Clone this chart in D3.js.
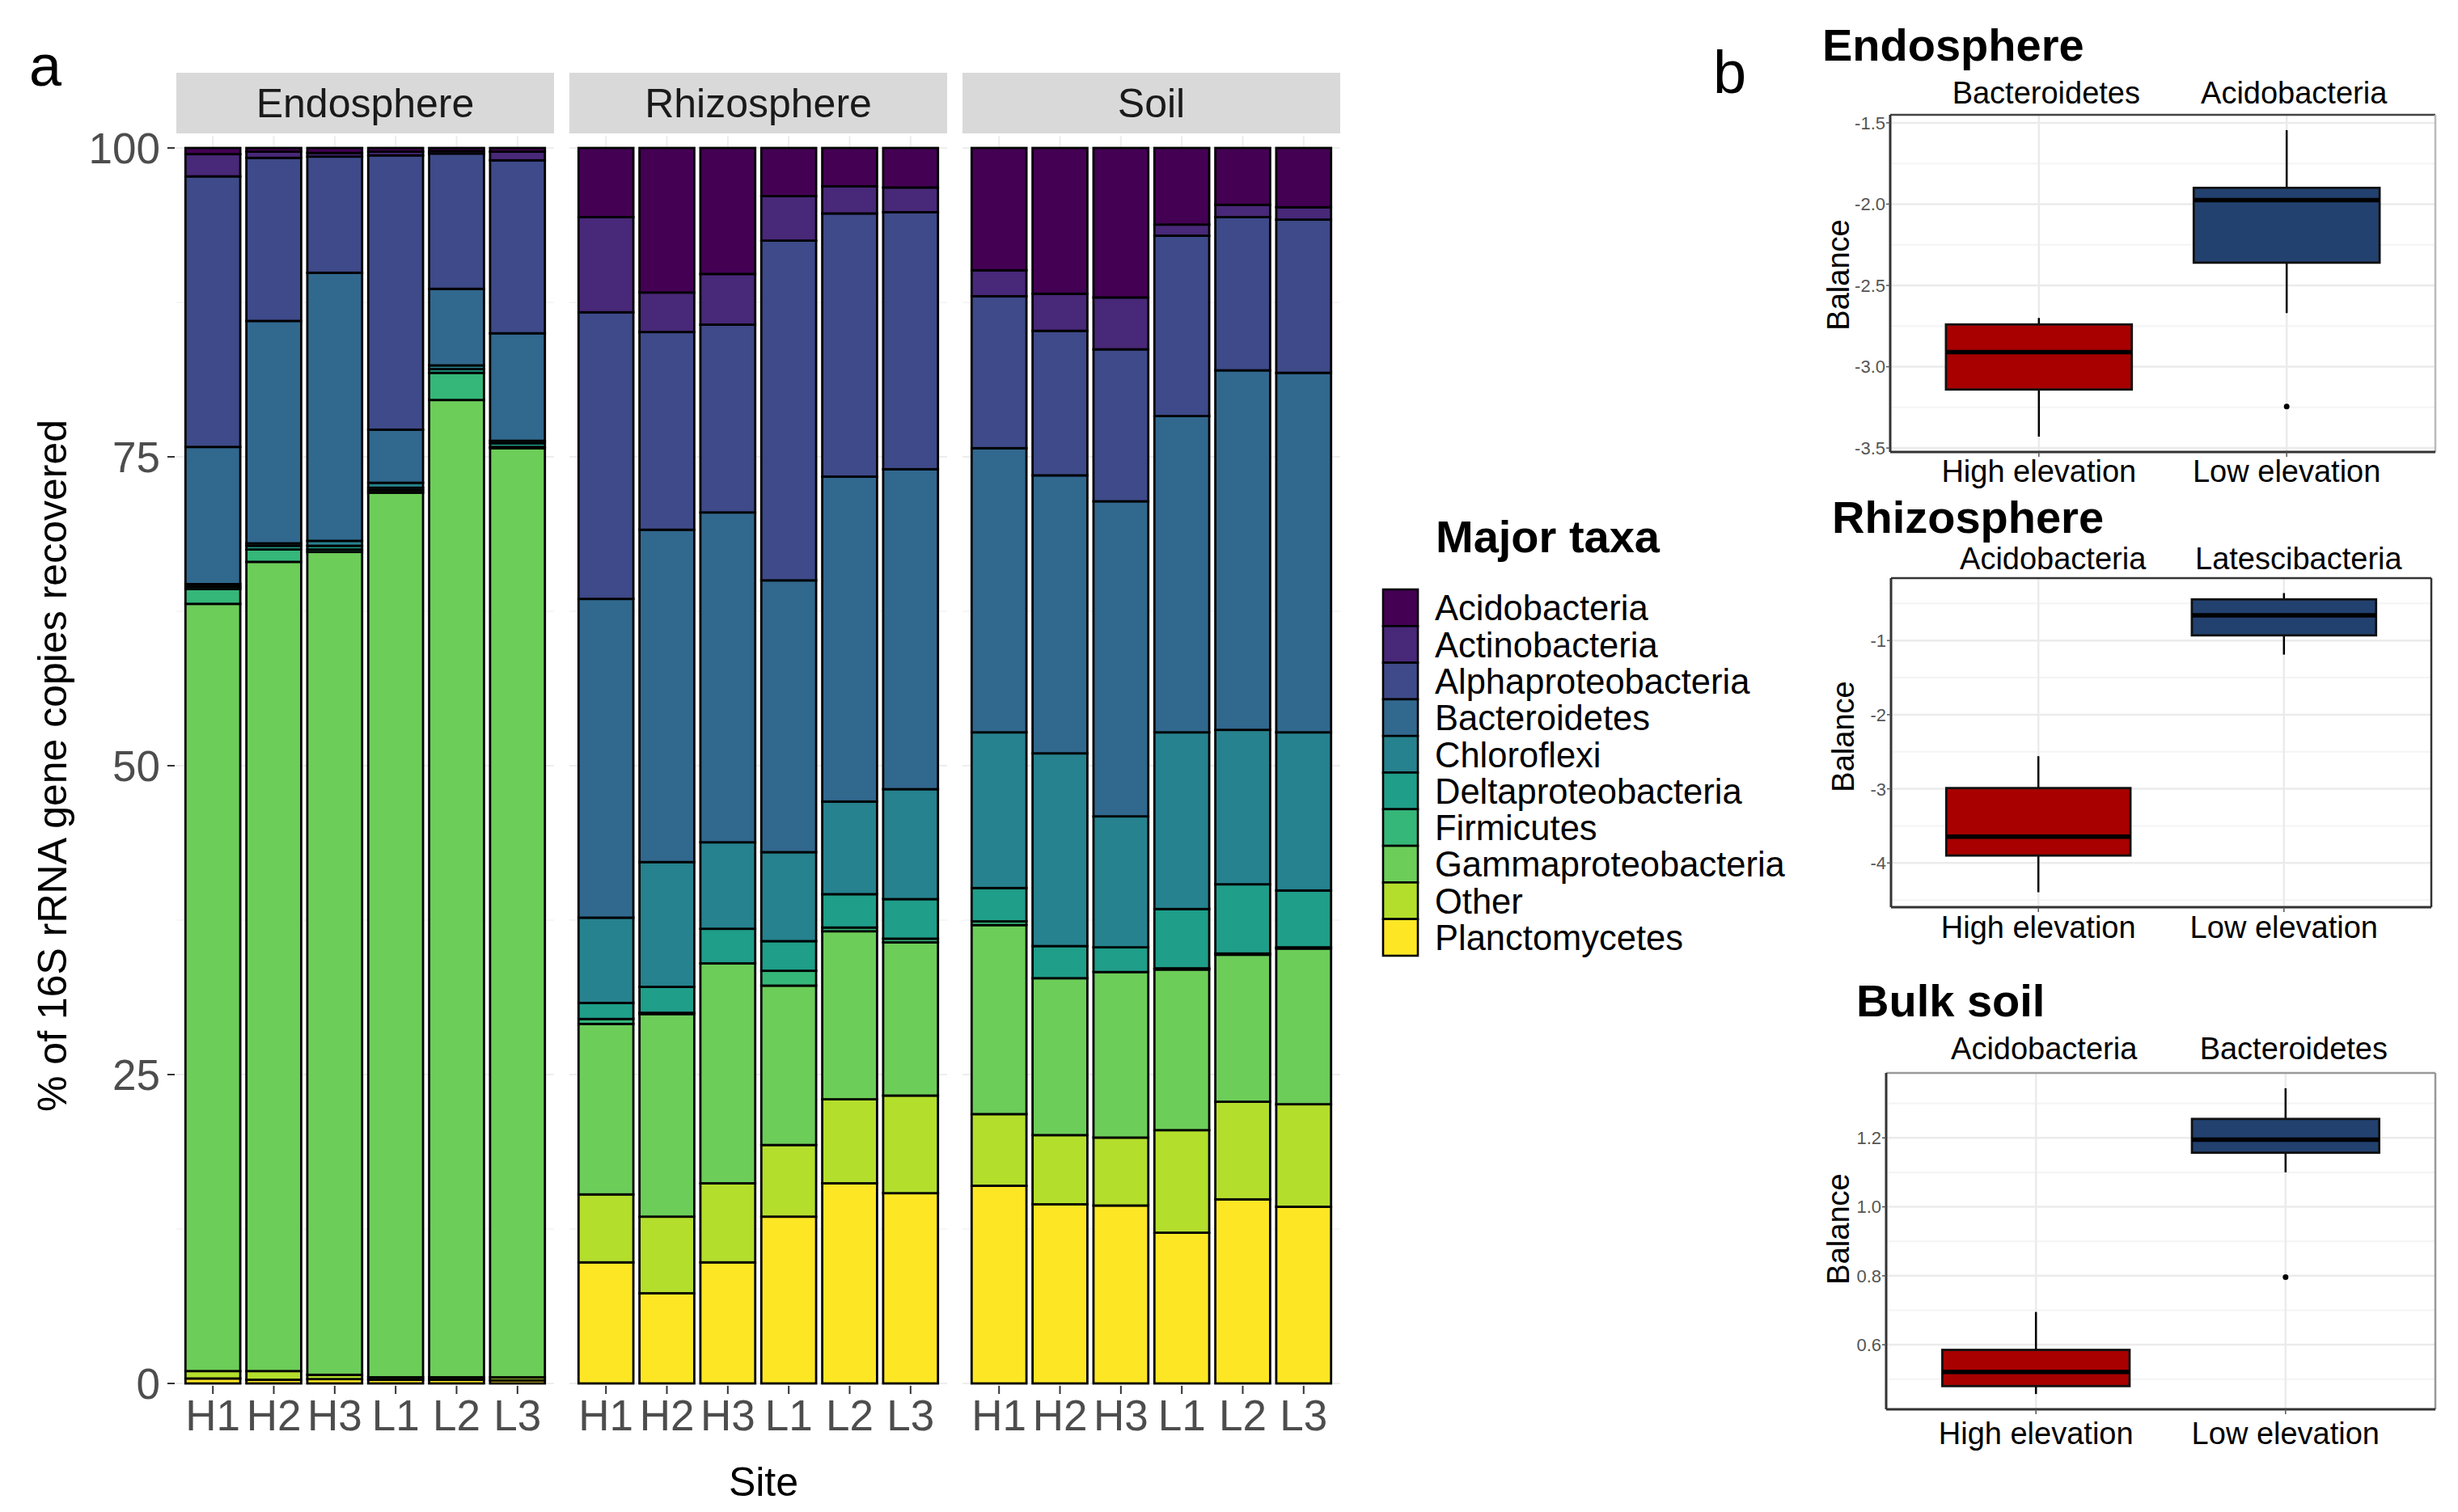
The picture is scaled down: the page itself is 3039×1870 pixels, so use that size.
<!DOCTYPE html>
<html><head><meta charset="utf-8">
<script src="https://cdn.jsdelivr.net/npm/d3@7/dist/d3.min.js"></script>
<style>body{margin:0;background:#fff} svg{display:block} text{font-family:"Liberation Sans",Arial,Helvetica,sans-serif}</style>
</head><body><svg id="c" width="3039" height="1870"></svg>
<script>
// ---------- DATA ----------
const taxa = ["Acidobacteria","Actinobacteria","Alphaproteobacteria","Bacteroidetes","Chloroflexi","Deltaproteobacteria","Firmicutes","Gammaproteobacteria","Other","Planctomycetes"];
const taxaColors = ["#440154","#482878","#3E4A89","#31688E","#26828E","#1F9E89","#35B779","#6DCD59","#B4DE2C","#FDE725"];
const sites = ["H1","H2","H3","L1","L2","L3"];
const compartments = ["Endosphere","Rhizosphere","Soil"];
// rows = sites (H1..L3), columns = taxa order above (% of 16S rRNA gene copies)
const endosphereValues = [
  [0.5,1.8,21.9,11.1,0.2,0.2,1.2,62.1,0.6,0.4],
  [0.3,0.5,13.2,18.0,0.2,0.3,1.0,65.5,0.7,0.3],
  [0.4,0.3,9.4,21.7,0.4,0.3,0.2,66.6,0.35,0.35],
  [0.3,0.3,22.2,4.3,0.4,0.2,0.2,71.6,0.2,0.3],
  [0.25,0.2,10.95,6.2,0.3,0.3,2.2,79.1,0.2,0.3],
  [0.3,0.7,14.0,8.7,0.2,0.3,0.1,75.2,0.25,0.25]
];
const rhizosphereValues = [
  [5.6,7.7,23.2,25.8,6.9,1.3,0.4,13.8,5.5,9.8],
  [11.7,3.2,16.0,26.9,10.1,2.1,0.1,16.4,6.2,7.3],
  [10.2,4.1,15.2,26.7,7.0,2.8,0.0,17.8,6.4,9.8],
  [3.9,3.6,27.5,22.0,7.2,2.4,1.2,12.9,5.8,13.5],
  [3.1,2.2,21.3,26.3,7.5,2.7,0.3,13.6,6.8,16.2],
  [3.2,2.0,20.8,25.9,8.9,3.2,0.3,12.4,7.9,15.4]
];
const soilValues = [
  [9.9,2.1,12.3,23.0,12.6,2.7,0.3,15.3,5.8,16.0],
  [11.8,3.0,11.7,22.5,15.6,2.6,0.0,12.7,5.6,14.5],
  [12.1,4.2,12.3,25.5,10.6,2.0,0.0,13.4,5.5,14.4],
  [6.2,0.9,14.6,25.6,14.3,4.8,0.1,13.0,8.3,12.2],
  [4.6,1.0,12.4,29.1,12.5,5.6,0.1,11.9,7.9,14.9],
  [4.8,1.0,12.4,29.1,12.8,4.6,0.1,12.6,8.3,14.3]
];
const yTicksA = [0,25,50,75,100];

// Panel b: balances (five-number summaries + outliers)
const elevationGroups = ["High elevation","Low elevation"];
const boxColors = ["#A80000","#22416F"];
const endoBalanceTaxa = ["Bacteroidetes","Acidobacteria"];
const endoBoxes = [
  {lo:-3.43, q1:-3.14, med:-2.91, q3:-2.74, hi:-2.70, out:[]},
  {lo:-2.67, q1:-2.36, med:-1.975, q3:-1.90, hi:-1.545, out:[-3.245]}
];
const endoTicks = [-3.5,-3.0,-2.5,-2.0,-1.5];
const rhizoBalanceTaxa = ["Acidobacteria","Latescibacteria"];
const rhizoBoxes = [
  {lo:-4.395, q1:-3.90, med:-3.645, q3:-2.99, hi:-2.56, out:[]},
  {lo:-1.19, q1:-0.93, med:-0.66, q3:-0.445, hi:-0.36, out:[]}
];
const rhizoTicks = [-4,-3,-2,-1];
const soilBalanceTaxa = ["Acidobacteria","Bacteroidetes"];
const soilBoxes = [
  {lo:0.457, q1:0.48, med:0.521, q3:0.585, hi:0.695, out:[]},
  {lo:1.10, q1:1.157, med:1.195, q3:1.255, hi:1.344, out:[0.796]}
];
const soilTicks = [0.6,0.8,1.0,1.2];

// ---------- DRAW ----------
const svg = d3.select("#c");
const allValues = [endosphereValues, rhizosphereValues, soilValues];

// panel a
const panelTop = 168, panelBottom = 1714;
const yA = d3.scaleLinear().domain([0,100]).range([1711,183]);
const panelX0 = [218,704,1190], panelW = 467;

svg.append("text").attr("x",36).attr("y",106).attr("font-size",72).attr("fill","#000").text("a");

const stackKeys = taxa.slice().reverse(); // Planctomycetes at bottom
compartments.forEach((comp, ci) => {
  const x0 = panelX0[ci];
  const g = svg.append("g");
  const x = d3.scaleBand().domain(sites).range([x0, x0+panelW]).paddingInner(0.1).paddingOuter(0.15);
  const minor = d3.range(12.5,100,25);
  g.selectAll(".gm").data(minor).join("line").attr("x1",x0).attr("x2",x0+panelW)
    .attr("y1",d=>yA(d)).attr("y2",d=>yA(d)).attr("stroke","#F3F3F3").attr("stroke-width",1.5);
  g.selectAll(".gM").data(yTicksA).join("line").attr("x1",x0).attr("x2",x0+panelW)
    .attr("y1",d=>yA(d)).attr("y2",d=>yA(d)).attr("stroke","#EDEDED").attr("stroke-width",2);
  g.selectAll(".gv").data(sites).join("line").attr("x1",d=>x(d)+x.bandwidth()/2).attr("x2",d=>x(d)+x.bandwidth()/2)
    .attr("y1",panelTop).attr("y2",panelBottom).attr("stroke","#EDEDED").attr("stroke-width",2);
  g.append("rect").attr("x",x0).attr("y",90).attr("width",panelW).attr("height",75).attr("fill","#D9D9D9");
  g.append("text").attr("x",x0+panelW/2).attr("y",145).attr("text-anchor","middle").attr("font-size",50).attr("fill","#1A1A1A").text(comp);
  const rows = allValues[ci].map((r,i)=>{ const o={site:sites[i]}; taxa.forEach((t,j)=>o[t]=r[j]); return o; });
  const series = d3.stack().keys(stackKeys)(rows);
  series.forEach(s => {
    const col = taxaColors[taxa.indexOf(s.key)];
    g.selectAll(null).data(s.filter(d=>d[1]-d[0]>0)).join("rect")
      .attr("x",d=>x(d.data.site)).attr("width",x.bandwidth())
      .attr("y",d=>yA(d[1])).attr("height",d=>yA(d[0])-yA(d[1]))
      .attr("fill",col).attr("stroke","#000").attr("stroke-width",2.8);
  });
  g.selectAll(".xt").data(sites).join("line").attr("x1",d=>x(d)+x.bandwidth()/2).attr("x2",d=>x(d)+x.bandwidth()/2)
    .attr("y1",panelBottom).attr("y2",panelBottom+10).attr("stroke","#333").attr("stroke-width",2);
  g.selectAll(".xl").data(sites).join("text").attr("x",d=>x(d)+x.bandwidth()/2).attr("y",1769)
    .attr("text-anchor","middle").attr("font-size",53).attr("fill","#4D4D4D").text(d=>d);
});
svg.selectAll(".yt").data(yTicksA).join("line").attr("x1",207).attr("x2",216).attr("y1",d=>yA(d)).attr("y2",d=>yA(d))
  .attr("stroke","#333").attr("stroke-width",2);
svg.selectAll(".yl").data(yTicksA).join("text").attr("x",198).attr("y",d=>yA(d)).attr("dy","0.36em")
  .attr("text-anchor","end").attr("font-size",53).attr("fill","#4D4D4D").text(d=>d);
svg.append("text").attr("transform","translate(82,947) rotate(-90)").attr("text-anchor","middle")
  .attr("font-size",50).attr("fill","#000").text("% of 16S rRNA gene copies recovered");
svg.append("text").attr("x",944).attr("y",1850).attr("text-anchor","middle").attr("font-size",50).attr("fill","#000").text("Site");

// legend
svg.append("text").attr("x",1775).attr("y",683).attr("font-size",56).attr("font-weight","bold").attr("fill","#000").text("Major taxa");
const keyH = 45.3, keyY0 = 729;
const lg = svg.append("g");
lg.selectAll("rect").data(taxa).join("rect").attr("x",1710).attr("y",(d,i)=>keyY0+i*keyH).attr("width",43).attr("height",keyH)
  .attr("fill",(d,i)=>taxaColors[i]).attr("stroke","#000").attr("stroke-width",2.6);
lg.selectAll("text").data(taxa).join("text").attr("x",1774).attr("y",(d,i)=>keyY0+(i+0.5)*keyH).attr("dy","0.36em")
  .attr("font-size",43.5).attr("fill","#000").text(d=>d);

// panel b
svg.append("text").attr("x",2118).attr("y",115).attr("font-size",74).attr("fill","#000").text("b");

function boxPanel(cfg){
  const g = svg.append("g");
  const {x0,x1,y0,y1} = cfg;
  const vals = cfg.boxes.flatMap(b=>[b.lo,b.hi,...b.out]);
  const ext = d3.extent(vals), pad = (ext[1]-ext[0])*0.05;
  const y = d3.scaleLinear().domain([ext[0]-pad, ext[1]+pad]).range([y1,y0]);
  const xc = d3.scalePoint().domain(elevationGroups).range([x0 + (x1-x0)*0.6/2.2, x0 + (x1-x0)*1.6/2.2]);
  const cx = d => xc(d);
  const bw = (x1-x0)*0.75/2.2;
  const tstep = cfg.ticks[1]-cfg.ticks[0];
  const minor = cfg.ticks.map(t=>t-tstep/2).concat([cfg.ticks[cfg.ticks.length-1]+tstep/2]).filter(v=>y(v)>=y0&&y(v)<=y1);
  g.selectAll(".gm").data(minor).join("line").attr("x1",x0).attr("x2",x1).attr("y1",d=>y(d)).attr("y2",d=>y(d))
    .attr("stroke","#F4F4F4").attr("stroke-width",2);
  g.selectAll(".gM").data(cfg.ticks).join("line").attr("x1",x0).attr("x2",x1).attr("y1",d=>y(d)).attr("y2",d=>y(d))
    .attr("stroke","#EBEBEB").attr("stroke-width",2.5);
  g.selectAll(".gv").data(elevationGroups).join("line").attr("x1",d=>cx(d)).attr("x2",d=>cx(d)).attr("y1",y0).attr("y2",y1)
    .attr("stroke","#EBEBEB").attr("stroke-width",2.5);
  cfg.boxes.forEach((b,i)=>{
    const c = cx(elevationGroups[i]);
    g.append("line").attr("x1",c).attr("x2",c).attr("y1",y(b.hi)).attr("y2",y(b.q3)).attr("stroke","#000").attr("stroke-width",2.5);
    g.append("line").attr("x1",c).attr("x2",c).attr("y1",y(b.q1)).attr("y2",y(b.lo)).attr("stroke","#000").attr("stroke-width",2.5);
    g.append("rect").attr("x",c-bw/2).attr("width",bw).attr("y",y(b.q3)).attr("height",y(b.q1)-y(b.q3))
      .attr("fill",boxColors[i]).attr("stroke","#111").attr("stroke-width",2.8);
    g.append("line").attr("x1",c-bw/2).attr("x2",c+bw/2).attr("y1",y(b.med)).attr("y2",y(b.med)).attr("stroke","#000").attr("stroke-width",5.5);
    b.out.forEach(o=>g.append("circle").attr("cx",c).attr("cy",y(o)).attr("r",3.5).attr("fill","#000"));
  });
  g.append("line").attr("x1",x0).attr("x2",x1).attr("y1",y0).attr("y2",y0).attr("stroke",cfg.topCol).attr("stroke-width",2.5);
  g.append("line").attr("x1",x1).attr("x2",x1).attr("y1",y0).attr("y2",y1).attr("stroke",cfg.rightCol).attr("stroke-width",2.5);
  g.append("line").attr("x1",x0).attr("x2",x0).attr("y1",y0).attr("y2",y1).attr("stroke","#333").attr("stroke-width",3);
  g.append("line").attr("x1",x0).attr("x2",x1).attr("y1",y1).attr("y2",y1).attr("stroke","#333").attr("stroke-width",3);
  g.selectAll(".yt").data(cfg.ticks).join("line").attr("x1",x0-5).attr("x2",x0).attr("y1",d=>y(d)).attr("y2",d=>y(d)).attr("stroke","#555").attr("stroke-width",1.5);
  g.selectAll(".yl").data(cfg.ticks).join("text").attr("x",x0-6).attr("y",d=>y(d)).attr("dy","0.36em").attr("text-anchor","end")
    .attr("font-size",22).attr("fill","#555").text(d=>d3.format(cfg.fmt)(d).replace("−","-"));
  g.selectAll(".xt").data(elevationGroups).join("line").attr("x1",d=>cx(d)).attr("x2",d=>cx(d)).attr("y1",y1).attr("y2",y1+6).attr("stroke","#555").attr("stroke-width",1.5);
  g.selectAll(".xl").data(elevationGroups).join("text").attr("x",d=>cx(d)).attr("y",cfg.xlabY).attr("text-anchor","middle")
    .attr("font-size",38).attr("fill","#000").text(d=>d);
  g.selectAll(".st").data(cfg.subs).join("text").attr("x",(d,i)=>cx(elevationGroups[i])+cfg.subOff).attr("y",cfg.subY).attr("text-anchor","middle")
    .attr("font-size",38).attr("fill","#000").text(d=>d);
  g.append("text").attr("x",cfg.titleX).attr("y",cfg.titleY).attr("font-size",56).attr("font-weight","bold").attr("fill","#000").text(cfg.title);
  g.append("text").attr("transform",`translate(${cfg.balX},${cfg.balY}) rotate(-90)`).attr("text-anchor","middle")
    .attr("font-size",38).attr("fill","#000").text("Balance");
}

boxPanel({x0:2337,x1:3011,y0:142,y1:559,boxes:endoBoxes,ticks:endoTicks,fmt:".1f",subs:endoBalanceTaxa,subY:128,subOff:9,
  xlabY:596,title:"Endosphere",titleX:2253,titleY:75,balX:2286,balY:340,topCol:"#444",rightCol:"#BBB"});
boxPanel({x0:2338,x1:3006,y0:715,y1:1122,boxes:rhizoBoxes,ticks:rhizoTicks,fmt:"d",subs:rhizoBalanceTaxa,subY:704,subOff:18,
  xlabY:1160,title:"Rhizosphere",titleX:2265,titleY:659,balX:2292,balY:911,topCol:"#333",rightCol:"#333"});
boxPanel({x0:2332,x1:3011,y0:1327,y1:1743,boxes:soilBoxes,ticks:soilTicks,fmt:".1f",subs:soilBalanceTaxa,subY:1310,subOff:10,
  xlabY:1786,title:"Bulk soil",titleX:2295,titleY:1257,balX:2286,balY:1520,topCol:"#999",rightCol:"#999"});
</script></body></html>
